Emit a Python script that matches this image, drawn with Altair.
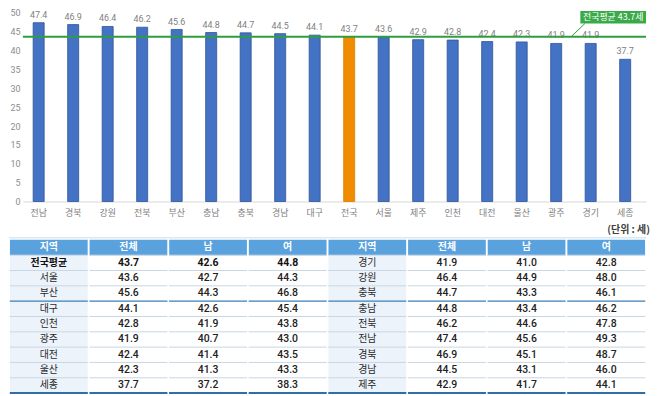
import altair as alt
import pandas as pd

# ---------------- data ----------------
regions = ["전남", "경북", "강원", "전북", "부산", "충남", "충북", "경남", "대구",
           "전국", "서울", "제주", "인천", "대전", "울산", "광주", "경기", "세종"]
ages = [47.4, 46.9, 46.4, 46.2, 45.6, 44.8, 44.7, 44.5, 44.1,
        43.7, 43.6, 42.9, 42.8, 42.4, 42.3, 41.9, 41.9, 37.7]
highlight_region = "전국"
national_avg = 43.7
avg_label = "전국평균 43.7세"
unit_label = "(단위 : 세)"
y_ticks = [0, 5, 10, 15, 20, 25, 30, 35, 40, 45, 50]

headers = ["지역", "전체", "남", "여"]
left_regions = ["전국평균", "서울", "부산", "대구", "인천", "광주", "대전", "울산", "세종"]
left_total = [43.7, 43.6, 45.6, 44.1, 42.8, 41.9, 42.4, 42.3, 37.7]
left_male = [42.6, 42.7, 44.3, 42.6, 41.9, 40.7, 41.4, 41.3, 37.2]
left_female = [44.8, 44.3, 46.8, 45.4, 43.8, 43.0, 43.5, 43.3, 38.3]
right_regions = ["경기", "강원", "충북", "충남", "전북", "전남", "경북", "경남", "제주"]
right_total = [41.9, 46.4, 44.7, 44.8, 46.2, 47.4, 46.9, 44.5, 42.9]
right_male = [41.0, 44.9, 43.3, 43.4, 44.6, 45.6, 45.1, 43.1, 41.7]
right_female = [42.8, 48.0, 46.1, 46.2, 47.8, 49.3, 48.7, 46.0, 44.1]

# ---------------- styles ----------------
KR = "Noto Sans CJK KR"
NUM = "Liberation Sans Narrow, Roboto, Noto Sans"
BLUE = "#4472c4"
BLUE_EDGE = "#2f5597"
ORANGE = "#f08c00"
GREEN = "#2e9e3e"
GREEN_BOX = "#3aaa48"
HEADER = "#5aa2dd"
REGION_BG = "#edf3fa"
W = 626

# ---------------- bar chart ----------------
bars_df = pd.DataFrame({"region": regions, "age": ages})

xscale = alt.Scale(paddingInner=0.68, paddingOuter=0.37, align=0.4)
xaxis = alt.Axis(labelAngle=0, labelFont=KR, labelFontSize=9,
                 labelColor="#808080", labelPadding=7, ticks=False,
                 tickSize=0, domainColor="#d9d9d9", domainWidth=1)
yscale = alt.Scale(domain=[0, 50], nice=False, zero=True)
yaxis = alt.Axis(values=y_ticks, grid=False, domain=False, ticks=False,
                 tickSize=0, labelPadding=3, labelFontSize=9,
                 labelOverlap=False, labelFont="Roboto", labelColor="#8c8c8c")


def X(field):
    return alt.X(field, sort=regions, title=None, scale=xscale, axis=xaxis)


def Y(field):
    return alt.Y(field, title=None, scale=yscale, axis=yaxis)


base = alt.Chart(bars_df)
bars = base.mark_bar(strokeWidth=0.8).encode(
    x=X("region:N"), y=Y("age:Q"),
    color=alt.condition(alt.datum.region == highlight_region, alt.value(ORANGE), alt.value(BLUE)),
    stroke=alt.condition(alt.datum.region == highlight_region, alt.value("#e07d00"), alt.value(BLUE_EDGE)),
)
values = base.mark_text(dy=-3, baseline="bottom", fontSize=9, font="Roboto",
                        color="#7f7f7f").encode(
    x=X("region:N"), y=Y("age:Q"),
    text=alt.Text("age:Q", format=".1f"))

avg_df = pd.DataFrame({"avg": [national_avg]})
avg_rule = alt.Chart(avg_df).mark_rule(color=GREEN, strokeWidth=2).encode(y=Y("avg:Q"))

main = alt.layer(bars, values, avg_rule)

# annotation box (own 0..1 horizontal scale)
ann_df = pd.DataFrame({"x0": [0.8946], "x1": [1.0], "y0": [47.2], "y1": [50.5],
                       "xm": [0.9473], "ym": [48.85], "label": [avg_label],
                       "lx0": [0.9020], "lx1": [0.8800], "ly1": [national_avg]})
ax = alt.Scale(domain=[0, 1], nice=False, zero=False)
ann_base = alt.Chart(ann_df)
ann_rect = ann_base.mark_rect(color=GREEN_BOX).encode(
    x=alt.X("x0:Q", scale=ax, axis=None), x2="x1:Q",
    y=Y("y0:Q"), y2="y1:Q")
ann_text = ann_base.mark_text(color="white", font=KR, fontSize=9).encode(
    x=alt.X("xm:Q", scale=ax, axis=None), y=Y("ym:Q"), text="label:N")
ann_leader = ann_base.mark_rule(color=GREEN, strokeWidth=1).encode(
    x=alt.X("lx0:Q", scale=ax, axis=None), x2="lx1:Q",
    y=Y("y0:Q"), y2="ly1:Q")
ann = alt.layer(ann_rect, ann_text, ann_leader)

top = alt.layer(main, ann).resolve_scale(x="independent").properties(
    width=W, height=189.5)

# ---------------- table ----------------
cells = []
sides = [(left_regions, left_total, left_male, left_female),
         (right_regions, right_total, right_male, right_female)]
for s, (regs, tot, male, fem) in enumerate(sides):
    c0 = s * 4
    for j, h in enumerate(headers):
        cells.append({"col": c0 + j, "row": 0, "label": h, "kind": "header", "bold": True})
    for i in range(len(regs)):
        bold = (s == 0 and i == 0)
        cells.append({"col": c0, "row": i + 1, "label": regs[i], "kind": "region", "bold": bold})
        for j, vals in enumerate([tot, male, fem]):
            cells.append({"col": c0 + 1 + j, "row": i + 1, "label": f"{vals[i]:.1f}",
                          "kind": "num", "bold": bold})
cells_df = pd.DataFrame(cells)

n_rows = len(left_regions) + 1
lines = []
for b in range(1, n_rows + 1):
    for c in range(8):
        kind = "light"
        if b == 4:
            kind = "dark"
        if b == n_rows:
            kind = "bottom"
        lines.append({"col": c, "b": b, "kind": kind})
lines_df = pd.DataFrame(lines)

tx = alt.Scale(domain=[0.175, 8], nice=False, zero=False)
ty = alt.Scale(domain=[-1.3, n_rows], nice=False, zero=False, reverse=True)

cbase = alt.Chart(cells_df).transform_calculate(
    xa="datum.col + 0.012", xb="datum.col + 0.988",
    ya="datum.row", yb="datum.row + 1",
    xm="datum.col + 0.5", ym="datum.row + 0.5")


def cell_rect(kind, color):
    return cbase.transform_filter(alt.datum.kind == kind).mark_rect(color=color).encode(
        x=alt.X("xa:Q", scale=tx, axis=None), x2="xb:Q",
        y=alt.Y("ya:Q", scale=ty, axis=None), y2="yb:Q")


def cell_text(kind, bold, **style):
    return cbase.transform_filter(
        (alt.datum.kind == kind) & (alt.datum.bold == bold)).mark_text(**style).encode(
        x=alt.X("xm:Q", scale=tx, axis=None), y=alt.Y("ym:Q", scale=ty, axis=None),
        text="label:N")


header_rect = cell_rect("header", HEADER)
region_rect = cell_rect("region", REGION_BG)

lbase = alt.Chart(lines_df).transform_calculate(xa="datum.col + 0.01", xb="datum.col + 0.99")


def row_lines(kind, color, width):
    return lbase.transform_filter(alt.datum.kind == kind).mark_rule(
        color=color, strokeWidth=width).encode(
        x=alt.X("xa:Q", scale=tx, axis=None), x2="xb:Q",
        y=alt.Y("b:Q", scale=ty, axis=None))


light_lines = row_lines("light", "#c9d6e3", 1)
dark_lines = row_lines("dark", "#3a7fb8", 1.2)
bottom_lines = row_lines("bottom", "#2f6ea8", 2)

header_text = cell_text("header", True, color="white", font=KR, fontSize=10, fontWeight="bold")
region_text = cell_text("region", False, color="#2a2a2a", font=KR, fontSize=10)
region_text_b = cell_text("region", True, color="#111111", font=KR, fontSize=10, fontWeight="bold")
num_text = cell_text("num", False, color="#222222", font=NUM, fontSize=10.5, fontWeight=500)
num_text_b = cell_text("num", True, color="#111111", font=NUM, fontSize=10.5, fontWeight="bold")

unit_df = pd.DataFrame({"x": [8], "y": [-0.65], "label": [unit_label],
                        "x0": [0], "x1": [8], "ly": [-0.13]})
unit_text = alt.Chart(unit_df).mark_text(align="right", dx=4, font=KR, fontSize=10,
                                         fontWeight="bold", color="#404040").encode(
    x=alt.X("x:Q", scale=tx, axis=None), y=alt.Y("y:Q", scale=ty, axis=None), text="label:N")
unit_line = alt.Chart(unit_df).mark_rule(color="#d8eaf8", strokeWidth=1.5).encode(
    x=alt.X("x0:Q", scale=tx, axis=None), x2="x1:Q", y=alt.Y("ly:Q", scale=ty, axis=None))

table = alt.layer(unit_line, unit_text, header_rect, region_rect, light_lines, dark_lines,
                  bottom_lines, header_text, region_text, region_text_b,
                  num_text, num_text_b).properties(width=W, height=174)

chart = alt.vconcat(top, table, spacing=2).properties(padding=0).configure_view(stroke=None)

chart.save("out.html", embed_options={"renderer": "svg", "actions": False})
